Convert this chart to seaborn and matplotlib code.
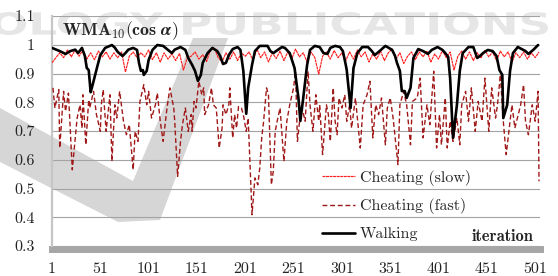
import numpy as np
import pandas as pd
import matplotlib
matplotlib.use("Agg")
import matplotlib.pyplot as plt
import seaborn as sns
from matplotlib.textpath import TextPath
from matplotlib.patches import PathPatch, Polygon
from matplotlib.font_manager import FontProperties
from matplotlib.transforms import Affine2D

# serie "Walking" (linea negra gruesa)
walk_x = [1, 9, 15, 20, 25, 28, 32, 35, 37, 39, 41, 43, 48, 51, 56, 63, 66, 69, 74, 77,
          80, 85, 89, 91, 93, 95, 96, 99, 101, 105, 110, 116, 121, 125, 128, 134, 139, 142, 146, 149,
          152, 155, 157, 162, 167, 172, 175, 178, 181, 184, 188, 193, 196, 199, 202, 204, 208, 211, 216, 224,
          227, 230, 235, 239, 242, 247, 252, 256, 258, 261, 265, 268, 273, 278, 282, 286, 289, 294, 299, 302,
          305, 306, 310, 313, 317, 322, 328, 332, 335, 340, 346, 353, 356, 358, 361, 363, 366, 368, 372, 375,
          380, 385, 390, 394, 400, 405, 408, 411, 413, 416, 420, 423, 426, 432, 437, 441, 444, 447, 452, 457,
          461, 464, 467, 468, 472, 475, 478, 483, 491, 494, 499, 504]
walk_y = [0.989, 0.978, 0.968, 0.978, 0.983, 0.971, 0.989, 0.961, 0.919, 0.912, 0.835, 0.860, 0.926, 0.964, 0.989, 0.999, 0.990, 0.975, 0.961, 0.971,
          0.983, 0.989, 0.982, 0.937, 0.909, 0.912, 0.895, 0.909, 0.947, 0.982, 0.999, 0.996, 0.982, 0.971, 0.983, 0.992, 0.982, 0.954, 0.930, 0.909,
          0.874, 0.895, 0.937, 0.971, 0.989, 0.978, 0.961, 0.933, 0.937, 0.964, 0.985, 0.992, 0.982, 0.909, 0.760, 0.850, 0.930, 0.978, 0.996, 0.996,
          0.978, 0.971, 0.983, 0.992, 0.989, 0.971, 0.919, 0.815, 0.735, 0.815, 0.930, 0.982, 0.996, 0.992, 0.971, 0.968, 0.989, 0.996, 0.992, 0.978,
          0.930, 0.912, 0.780, 0.919, 0.971, 0.992, 0.992, 0.978, 0.964, 0.978, 0.996, 0.982, 0.961, 0.937, 0.909, 0.839, 0.839, 0.815, 0.850, 0.954,
          0.985, 0.978, 0.968, 0.982, 0.992, 0.982, 0.971, 0.957, 0.884, 0.676, 0.790, 0.909, 0.971, 0.992, 0.992, 0.954, 0.961, 0.971, 0.982, 0.978,
          0.961, 0.912, 0.895, 0.745, 0.790, 0.909, 0.971, 0.992, 0.978, 0.968, 0.982, 0.999]

# serie "Cheating (fast)" (rojo oscuro discontinuo)
fast_x = [2, 4, 8, 9, 13, 15, 18, 22, 27, 30, 32, 33, 36, 39, 40, 44, 47, 51, 52, 54,
          57, 61, 63, 66, 68, 71, 75, 78, 81, 85, 87, 90, 92, 96, 99, 101, 104, 108, 110, 113,
          116, 120, 123, 127, 128, 131, 134, 136, 139, 142, 145, 146, 148, 150, 153, 156, 158, 159, 163, 166,
          168, 171, 174, 177, 178, 181, 184, 185, 188, 190, 192, 194, 197, 199, 202, 204, 208, 211, 214, 216,
          218, 220, 223, 225, 228, 230, 232, 234, 237, 241, 244, 247, 251, 253, 255, 259, 263, 266, 268, 271,
          274, 277, 278, 281, 285, 287, 289, 292, 294, 296, 298, 301, 304, 306, 309, 311, 315, 320, 323, 327,
          330, 333, 336, 339, 342, 346, 348, 351, 354, 359, 361, 365, 368, 372, 374, 379, 382, 385, 389, 392,
          396, 399, 402, 404, 408, 410, 413, 416, 420, 423, 425, 429, 432, 435, 439, 442, 446, 449, 453, 456,
          460, 462, 465, 468, 471, 473, 477, 480, 486, 489, 491, 494, 498, 501, 504, 505]
fast_y = [0.850, 0.780, 0.844, 0.641, 0.838, 0.768, 0.832, 0.565, 0.745, 0.791, 0.710, 0.826, 0.652, 0.809, 0.780, 0.838, 0.757, 0.699, 0.791, 0.844,
          0.699, 0.826, 0.594, 0.791, 0.745, 0.838, 0.734, 0.687, 0.722, 0.565, 0.699, 0.664, 0.803, 0.861, 0.791, 0.838, 0.745, 0.791, 0.832, 0.734,
          0.664, 0.780, 0.850, 0.780, 0.734, 0.542, 0.664, 0.722, 0.780, 0.699, 0.757, 0.699, 0.803, 0.780, 0.873, 0.826, 0.850, 0.757, 0.791, 0.850,
          0.791, 0.780, 0.641, 0.710, 0.791, 0.757, 0.791, 0.850, 0.676, 0.757, 0.710, 0.785, 0.780, 0.757, 0.699, 0.745, 0.409, 0.537, 0.513, 0.571,
          0.676, 0.734, 0.850, 0.826, 0.513, 0.560, 0.699, 0.734, 0.780, 0.594, 0.734, 0.791, 0.850, 0.908, 0.664, 0.791, 0.734, 0.908, 0.791, 0.699,
          0.826, 0.734, 0.791, 0.618, 0.791, 0.757, 0.664, 0.850, 0.734, 0.687, 0.815, 0.780, 0.826, 0.734, 0.791, 0.710, 0.815, 0.641, 0.791, 0.826,
          0.873, 0.676, 0.791, 0.757, 0.815, 0.652, 0.780, 0.815, 0.745, 0.583, 0.791, 0.838, 0.791, 0.652, 0.803, 0.815, 0.884, 0.676, 0.791, 0.722,
          0.908, 0.641, 0.757, 0.652, 0.815, 0.641, 0.734, 0.664, 0.745, 0.652, 0.791, 0.838, 0.734, 0.850, 0.699, 0.803, 0.734, 0.884, 0.699, 0.850,
          0.745, 0.791, 0.896, 0.734, 0.618, 0.676, 0.791, 0.710, 0.791, 0.861, 0.734, 0.687, 0.791, 0.734, 0.838, 0.525]

# serie "Cheating (slow)" (rojo claro, punteado fino), una muestra cada 4 iteraciones
slow_x = list(range(1, 506, 4))
slow_y = [0.937, 0.955, 0.972, 0.955, 0.982, 0.958, 0.982, 0.960, 0.982, 0.950, 0.972, 0.948, 0.978, 0.958, 0.975, 0.950, 0.972, 0.955, 0.975, 0.905,
          0.960, 0.975, 0.955, 0.972, 0.958, 0.982, 0.948, 0.972, 0.940, 0.972, 0.950, 0.968, 0.945, 0.970, 0.912, 0.955, 0.960, 0.975, 0.950, 0.965,
          0.942, 0.982, 0.988, 0.955, 0.940, 0.972, 0.950, 0.975, 0.945, 0.972, 0.960, 0.975, 0.945, 0.985, 0.955, 0.975, 0.940, 0.972, 0.952, 0.978,
          0.945, 0.975, 0.950, 0.985, 0.958, 0.972, 0.940, 0.975, 0.955, 0.898, 0.960, 0.975, 0.950, 0.980, 0.955, 0.972, 0.945, 0.975, 0.950, 0.982,
          0.958, 0.975, 0.940, 0.968, 0.950, 0.978, 0.945, 0.972, 0.985, 0.950, 0.972, 0.935, 0.960, 0.975, 0.948, 0.975, 0.958, 0.978, 0.940, 0.968,
          0.950, 0.980, 0.955, 0.975, 0.912, 0.960, 0.978, 0.950, 0.975, 0.945, 0.972, 0.955, 0.980, 0.958, 0.975, 0.945, 0.978, 0.958, 0.975, 0.940,
          0.972, 0.955, 0.975, 0.950, 0.972, 0.955, 0.975]

x_ticks = [1, 51, 101, 151, 201, 251, 301, 351, 401, 451, 501]
y_ticks = [0.3, 0.4, 0.5, 0.6, 0.7, 0.8, 0.9, 1.0, 1.1]
y_labels = ["0.3", "0.4", "0.5", "0.6", "0.7", "0.8", "0.9", "1", "1.1"]

sns.set_style("white")
plt.rcParams["font.family"] = ["cmr10", "DejaVu Serif"]
plt.rcParams["mathtext.fontset"] = "cm"
plt.rcParams["axes.formatter.use_mathtext"] = True

W, H = 558, 276
fig = plt.figure(figsize=(W / 100, H / 100), dpi=100)
ax = fig.add_axes([52 / W, 30 / H, 488 / W, 230 / H])
ax.set_facecolor("none")

# marca de agua de fondo (texto y "check" gris)
tp = TextPath((0, 0), "OLOGY PUBLICATIONS", size=40,
              prop=FontProperties(family="DejaVu Sans", weight="bold"))
bb = tp.get_extents()
tr = (Affine2D().translate(-bb.x0, -bb.y0)
      .scale(556 / bb.width / W, 23 / bb.height / H)
      .translate(-8 / W, 241 / H)) + fig.transFigure
fig.patches.append(PathPatch(tp, transform=tr, color="#e6e6e6", lw=0, zorder=-2))
swoosh = [(0, 108), (133, 181), (193, 38), (228, 38), (160, 220), (118, 222), (0, 162)]
fig.patches.append(Polygon([(px / W, 1 - py / H) for px, py in swoosh], closed=True,
                           transform=fig.transFigure, color="#d6d6d6", lw=0, zorder=-2))

df_slow = pd.DataFrame({"iteration": slow_x, "value": slow_y})
df_fast = pd.DataFrame({"iteration": fast_x, "value": fast_y})
df_walk = pd.DataFrame({"iteration": walk_x, "value": walk_y})

sns.lineplot(data=df_fast, x="iteration", y="value", ax=ax, color="#a01818", lw=1.0,
             linestyle=(0, (3.5, 2)), label="Cheating (fast)", zorder=3)
sns.lineplot(data=df_slow, x="iteration", y="value", ax=ax, color="#ff2020", lw=0.85,
             linestyle=(0, (2.5, 0.5)), label="Cheating (slow)", zorder=3.5)
sns.lineplot(data=df_walk, x="iteration", y="value", ax=ax, color="black", lw=1.9,
             label="Walking", zorder=4)

ax.set_xlim(1, 506)
ax.set_ylim(0.3, 1.1)
ax.set_xticks(x_ticks)
ax.set_xticklabels([str(t) for t in x_ticks])
ax.set_yticks(y_ticks)
ax.set_yticklabels(y_labels)
ax.set_xticks(np.arange(9.3, 506, 27.6), minor=True)
ax.set_xlabel("")
ax.set_ylabel("")

ax.yaxis.grid(True, color="#a3a3a3", lw=0.8)
ax.xaxis.grid(False)
for s in ["top", "right"]:
    ax.spines[s].set_visible(False)
ax.spines["left"].set_color("#c6c6c6")
ax.spines["left"].set_linewidth(1.6)
ax.spines["bottom"].set_color("#a6a6a6")
ax.spines["bottom"].set_linewidth(5)
ax.spines["bottom"].set_position(("outward", 2.5))
ax.spines["bottom"].set_zorder(1)
ax.tick_params(axis="both", which="major", length=0, labelsize=11.5, colors="#222222")
ax.tick_params(axis="y", pad=12.5)
ax.tick_params(axis="x", pad=9.5)
ax.tick_params(axis="x", which="minor", direction="inout", length=5, width=0.8, color="#cfcfcf")

# titulo y etiqueta del eje dentro del grafico
ax.text(0.02, 0.935, r"$\mathbf{WMA_{10}(cos}\ \boldsymbol{\alpha}\mathbf{)}$", transform=ax.transAxes,
        fontsize=12.8, va="center", ha="left", zorder=5)
ax.text(0.986, 0.022, "iteration", transform=ax.transAxes, fontsize=11.8,
        family="cmb10", ha="right", va="baseline", zorder=5)

handles, labels = ax.get_legend_handles_labels()
order = ["Cheating (slow)", "Cheating (fast)", "Walking"]
ax.legend([handles[labels.index(l)] for l in order], order, loc="lower left",
          bbox_to_anchor=(0.553, 0.02), frameon=False, prop={"family": "cmr10", "size": 11.5},
          handlelength=2.1, handletextpad=0.3, labelspacing=0.8, borderpad=0, borderaxespad=0)

fig.savefig("out.png", dpi=100)
